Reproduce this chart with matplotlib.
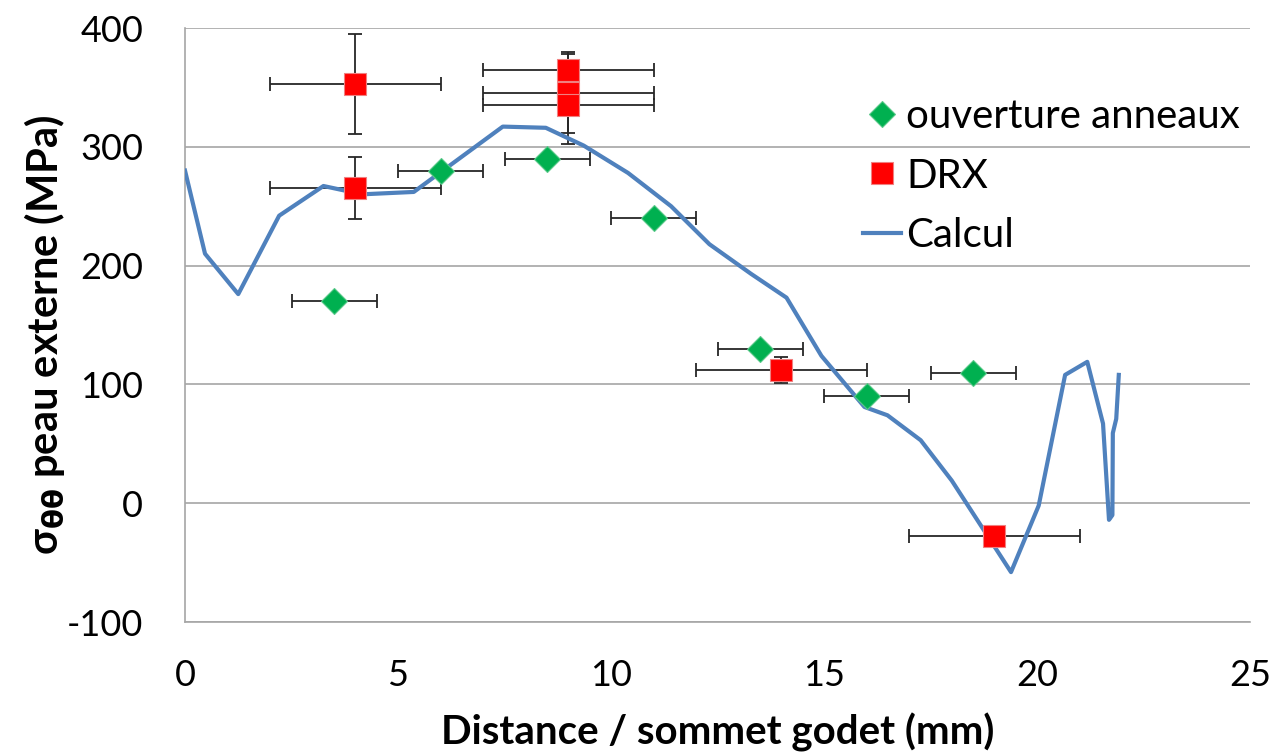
import matplotlib
matplotlib.use("Agg")
import matplotlib.pyplot as plt
import numpy as np

# ---- data ----
ouv_x = [3.5, 6, 8.5, 11, 13.5, 16, 18.5]
ouv_y = [170, 280, 290, 240, 130, 90, 110]
ouv_xerr = [1, 1, 1, 1, 1, 1, 1]

drx_x = [4, 4, 9, 9, 9, 14, 19]
drx_y = [353, 265, 365, 345, 335, 112, -28]
drx_xerr = [2, 2, 2, 2, 2, 2, 2]
drx_yerr = [42, 26, 15, 33, 33, 11, 0]

calc_x = [0, 0.47, 1.25, 2.21, 3.25, 4.16, 5.37, 7.46, 8.47, 9.36, 10.4, 11.41,
          12.31, 13.29, 14.12, 14.94, 15.95, 16.49, 17.27, 18.0, 19.39, 20.04,
          20.66, 21.18, 21.55, 21.69, 21.77, 21.78, 21.86, 21.92]
calc_y = [280, 210, 176, 242, 267, 260, 262, 317, 316, 301, 278, 250,
          218, 193, 173, 124, 81, 74, 53, 19, -58, -2,
          108, 119, 67, -14, -10, 59, 71, 108]

xticks = [0, 5, 10, 15, 20, 25]
yticks = [-100, 0, 100, 200, 300, 400]

FONT = "Lato"
plt.rcParams["font.family"] = [FONT, "DejaVu Sans"]

fig = plt.figure(figsize=(12.72, 7.55), dpi=100)
ax = fig.add_axes([185/1272, 1-622/755, (1250-185)/1272, (622-28)/755])

ax.set_xlim(0, 25)
ax.set_ylim(-100, 400)
ax.set_xticks(xticks)
ax.set_yticks(yticks)
ax.set_xticklabels([str(v) for v in xticks])
ax.set_yticklabels([str(v) for v in yticks])

for s in ["top", "right"]:
    ax.spines[s].set_visible(False)
for s in ["left", "bottom"]:
    ax.spines[s].set_color("#A6A6A6")
    ax.spines[s].set_linewidth(1.2)

ax.yaxis.grid(True, color="#A6A6A6", linewidth=1.2)
ax.set_axisbelow(True)
ax.tick_params(axis="both", length=0, labelsize=26, colors="#000000")
ax.tick_params(axis="x", pad=27)
ax.tick_params(axis="y", pad=30)

ecol = "#262626"
ax.errorbar(ouv_x, ouv_y, xerr=ouv_xerr, fmt="none", ecolor=ecol,
            elinewidth=1.3, capsize=5, capthick=1.3, zorder=2)
ax.errorbar(drx_x, drx_y, xerr=drx_xerr, yerr=drx_yerr, fmt="none", ecolor=ecol,
            elinewidth=1.3, capsize=5, capthick=1.3, zorder=2)

l_calc, = ax.plot(calc_x, calc_y, color="#4F81BD", lw=3, zorder=3, label="Calcul",
                  solid_joinstyle="round")
l_ouv, = ax.plot(ouv_x, ouv_y, linestyle="none", marker="D", markersize=13,
                 markerfacecolor="#00B050", markeredgecolor="#5BC98A",
                 markeredgewidth=0.8, zorder=4, label="ouverture anneaux")
l_drx, = ax.plot(drx_x, drx_y, linestyle="none", marker="s", markersize=16.5,
                 markerfacecolor="#FF0000", markeredgecolor="#F08080",
                 markeredgewidth=0.8, zorder=5, label="DRX")

leg = ax.legend(handles=[l_ouv, l_drx, l_calc], loc="upper left",
                bbox_to_anchor=(863/1272, 1-98/755), bbox_transform=fig.transFigure,
                frameon=False, fontsize=29, handlelength=0.95, handletextpad=0.12,
                labelspacing=0.56, borderaxespad=0, borderpad=0)

ax.set_xlabel("Distance / sommet godet (mm)", fontsize=29, fontweight="bold")
ax.xaxis.set_label_coords(0.5, (622-752)/594)
ax.xaxis.label.set_va("bottom")

ax.set_ylabel(r"σ$_{\mathbf{θθ}}$ peau externe (MPa)", fontsize=30, fontweight="bold")
ax.yaxis.set_label_coords((45-185)/1065, 0.5 + (325-335)/594)
ax.yaxis.label.set_va("center")

fig.savefig("out.png", dpi=100)
